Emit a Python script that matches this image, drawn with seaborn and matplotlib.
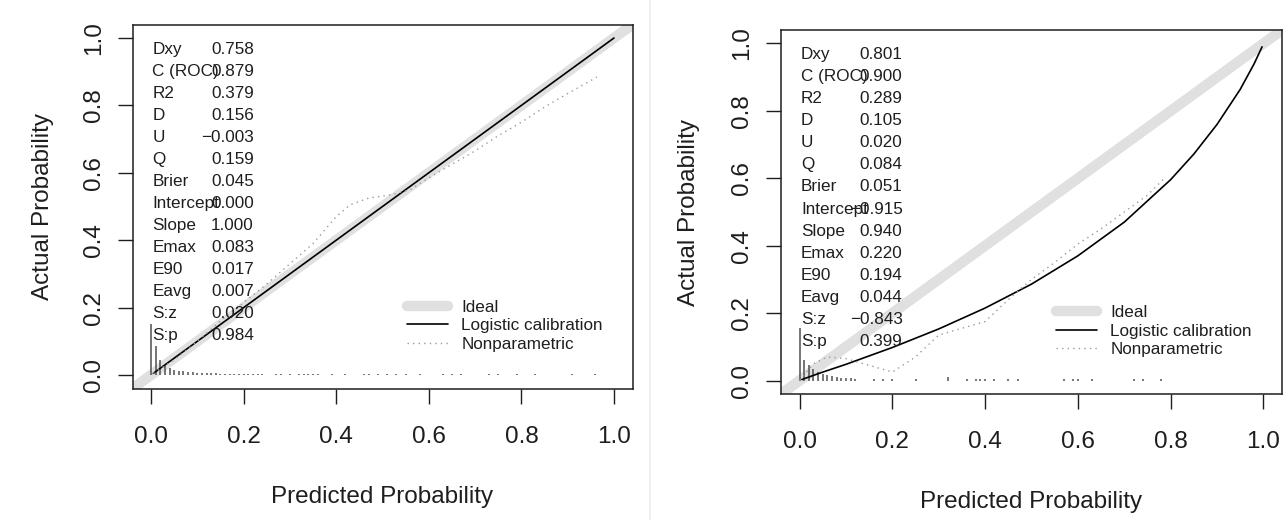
import matplotlib
matplotlib.use("Agg")
import matplotlib.pyplot as plt
import seaborn as sns

# ---- data ----
stat_names = ["Dxy", "C (ROC)", "R2", "D", "U", "Q", "Brier", "Intercept",
              "Slope", "Emax", "E90", "Eavg", "S:z", "S:p"]
left_stats = ["0.758", "0.879", "0.379", "0.156", "\u22120.003", "0.159", "0.045",
              "0.000", "1.000", "0.083", "0.017", "0.007", "0.020", "0.984"]
right_stats = ["0.801", "0.900", "0.289", "0.105", "0.020", "0.084", "0.051",
               "\u22120.915", "0.940", "0.220", "0.194", "0.044", "\u22120.843", "0.399"]

ideal_pts = [0.0, 1.0]

# logistic calibration curves
left_logit_x = [0.005, 1.0]
left_logit_y = [0.005, 1.0]
right_logit_x = [0.005, 0.05, 0.1, 0.2, 0.3, 0.4, 0.5, 0.6, 0.7, 0.8, 0.85, 0.9, 0.95, 0.98, 0.997]
right_logit_y = [0.003, 0.025, 0.048, 0.098, 0.153, 0.215, 0.286, 0.370, 0.470, 0.596, 0.672,
                 0.760, 0.864, 0.940, 0.990]

# nonparametric curves
left_np_x = [0.005, 0.05, 0.1, 0.15, 0.2, 0.25, 0.3, 0.35, 0.4, 0.43, 0.47, 0.52, 0.56, 0.6,
             0.65, 0.7, 0.75, 0.8, 0.85, 0.9, 0.963]
left_np_y = [0.005, 0.045, 0.1, 0.16, 0.215, 0.27, 0.33, 0.39, 0.47, 0.505, 0.525, 0.535, 0.55,
             0.585, 0.625, 0.665, 0.71, 0.75, 0.795, 0.835, 0.884]
right_np_x = [0.0, 0.03, 0.06, 0.1, 0.15, 0.2, 0.25, 0.3, 0.35, 0.4, 0.45, 0.5, 0.55, 0.6,
              0.65, 0.7, 0.75, 0.79]
right_np_y = [0.0, 0.05, 0.07, 0.065, 0.045, 0.025, 0.07, 0.135, 0.155, 0.175, 0.24, 0.3,
              0.35, 0.405, 0.45, 0.5, 0.55, 0.605]

# spike histograms of predicted probabilities
left_spike_x = [0.00, 0.01, 0.02, 0.03, 0.04, 0.05, 0.06, 0.07, 0.08, 0.09, 0.10, 0.11, 0.12,
                0.13, 0.14, 0.15, 0.16, 0.17, 0.18, 0.19, 0.20, 0.21, 0.22, 0.23, 0.24,
                0.27, 0.28, 0.30, 0.32, 0.33, 0.34, 0.35, 0.36, 0.39, 0.42, 0.46, 0.47, 0.49,
                0.51, 0.53, 0.55, 0.58, 0.63, 0.65, 0.67, 0.73, 0.75, 0.79, 0.83, 0.91, 0.96]
left_spike_h = [0.15, 0.085, 0.045, 0.03, 0.022, 0.016, 0.013, 0.011, 0.009, 0.008, 0.007,
                0.006, 0.006, 0.005, 0.005, 0.004, 0.004, 0.004, 0.004, 0.003, 0.003, 0.003,
                0.003, 0.003, 0.003, 0.003, 0.003, 0.003, 0.003, 0.003, 0.003, 0.003, 0.003,
                0.003, 0.003, 0.003, 0.003, 0.003, 0.003, 0.003, 0.003, 0.003, 0.003, 0.003,
                0.003, 0.003, 0.003, 0.003, 0.003, 0.003, 0.003]
right_spike_x = [0.00, 0.01, 0.02, 0.03, 0.04, 0.05, 0.06, 0.07, 0.08, 0.09, 0.10, 0.11, 0.12,
                 0.16, 0.18, 0.20, 0.25, 0.32, 0.36, 0.38, 0.39, 0.40, 0.42, 0.45, 0.47,
                 0.57, 0.59, 0.60, 0.63, 0.72, 0.74, 0.78]
right_spike_h = [0.155, 0.06, 0.045, 0.035, 0.025, 0.02, 0.015, 0.012, 0.01, 0.008, 0.007,
                 0.006, 0.005, 0.004, 0.004, 0.004, 0.004, 0.01, 0.004, 0.004, 0.004, 0.004,
                 0.004, 0.004, 0.004, 0.004, 0.004, 0.004, 0.004, 0.004, 0.004, 0.004]

ticks = [0.0, 0.2, 0.4, 0.6, 0.8, 1.0]
tick_labels = ["0.0", "0.2", "0.4", "0.6", "0.8", "1.0"]

sns.set_style("ticks")
plt.rcParams["font.family"] = ["Liberation Sans", "DejaVu Sans"]

W, H = 1287, 520
fig = plt.figure(figsize=(W / 100, H / 100), dpi=100)
fig.patch.set_facecolor("white")

ink = "#1e1e1e"


def draw_panel(ax, logit_x, logit_y, np_x, np_y, spike_x, spike_h, stats):
    ideal = ax.axline((ideal_pts[0], ideal_pts[0]), (ideal_pts[1], ideal_pts[1]),
                      color="#e0e0e0", lw=7.5, solid_capstyle="round", zorder=1,
                      label="Ideal")
    ax.vlines(spike_x, 0, spike_h, color="#505050", lw=1.1, zorder=2)
    sns.lineplot(x=logit_x, y=logit_y, ax=ax, color="black", lw=1.2, sort=False,
                 estimator=None, zorder=3)
    logistic = ax.lines[-1]
    logistic.set_label("Logistic calibration")
    sns.lineplot(x=np_x, y=np_y, ax=ax, color="#9a9a9a", lw=1.0, sort=False,
                 estimator=None, zorder=3)
    nonpar = ax.lines[-1]
    nonpar.set_linestyle((0, (1, 3)))
    nonpar.set_label("Nonparametric")

    ax.set_xlim(-0.04, 1.04)
    ax.set_ylim(-0.04, 1.04)
    ax.set_xticks(ticks, tick_labels)
    ax.set_yticks(ticks, tick_labels)
    ax.tick_params(axis="both", direction="out", length=11, width=1.0, color=ink,
                   labelsize=17.5, labelcolor=ink)
    ax.tick_params(axis="x", pad=16)
    ax.tick_params(axis="y", pad=9, labelrotation=90)
    for lab in ax.get_yticklabels():
        lab.set_va("center")
    for sp in ax.spines.values():
        sp.set_visible(True)
        sp.set_color(ink)
        sp.set_linewidth(1.1)

    ax.set_xlabel("Predicted Probability", fontsize=17.5, color=ink, va="center")
    ax.set_ylabel("Actual Probability", fontsize=17.5, color=ink, va="center")
    ax.xaxis.set_label_coords(0.5, -0.298)

    y_top, step = 0.966, 0.0653
    for i, (name, val) in enumerate(zip(stat_names, stats)):
        yy = y_top - i * step
        ax.text(0.003, yy, name, fontsize=12.3, color=ink, ha="left", va="center", zorder=4)
        ax.text(0.222, yy, val, fontsize=12.3, color=ink, ha="right", va="center", zorder=4)

    leg = ax.legend(handles=[ideal, logistic, nonpar], loc="center left",
                    bbox_to_anchor=(0.552, 0.146), bbox_transform=ax.transData,
                    frameon=False, fontsize=12.3, handlelength=2.4, handletextpad=0.8,
                    labelspacing=0.2, borderpad=0, borderaxespad=0)
    for t in leg.get_texts():
        t.set_color(ink)


ax_left = fig.add_axes([132.5 / W, 1 - 388.5 / H, 500 / W, 364 / H])
draw_panel(ax_left, left_logit_x, left_logit_y, left_np_x, left_np_y,
           left_spike_x, left_spike_h, left_stats)
ax_left.yaxis.set_label_coords(-0.179, 0.5)

ax_right = fig.add_axes([781 / W, 1 - 394 / H, 501 / W, 364 / H])
draw_panel(ax_right, right_logit_x, right_logit_y, right_np_x, right_np_y,
           right_spike_x, right_spike_h, right_stats)
ax_right.yaxis.set_label_coords(-0.184, 0.5)

# faint divider between the two screenshots
fig.add_artist(plt.Line2D([650 / W, 650 / W], [0, 1], color="#ececec", lw=1.2))

fig.savefig("out.png", dpi=100, facecolor="white")
